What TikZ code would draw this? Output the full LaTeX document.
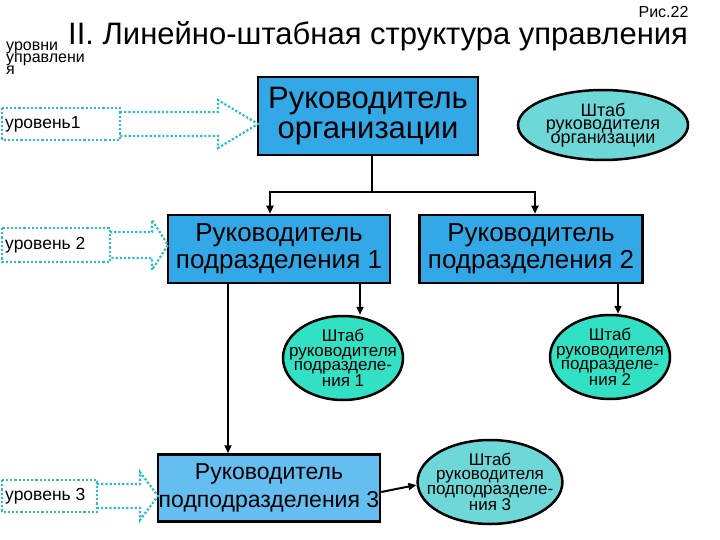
\documentclass[tikz,border=0pt]{standalone}
\usepackage{fontspec}
\setmainfont{Liberation Sans}
\usetikzlibrary{shapes.geometric,arrows.meta}
\definecolor{boxb}{RGB}{51,168,230}
\definecolor{boxc}{RGB}{100,190,240}
\definecolor{ellA}{RGB}{110,215,215}
\definecolor{ellB}{RGB}{50,225,195}
\definecolor{dotc}{RGB}{40,190,200}
\begin{document}
\begin{tikzpicture}[x=1pt,y=-1pt,
 box/.style={draw=black,line width=2.5pt,inner sep=0pt,align=center},
 ell/.style={ellipse,draw=black,line width=2.5pt,inner sep=-12pt,align=center,font=\fontsize{17}{14.5}\selectfont},
 con/.style={line width=2.5pt,-{Triangle[length=8pt,width=7pt]}},
 dot/.style={draw=dotc,line width=2.2pt,dotted},
 lbl/.style={font=\fontsize{17.5}{18}\selectfont,anchor=west,inner sep=1pt}]
\useasboundingbox (0,0) rectangle (720,540);
\node[anchor=east,font=\fontsize{16}{16}\selectfont] (fig) at (692,12) {Рис.22};
\node[anchor=west,font=\fontsize{31}{32}\selectfont,inner sep=0pt] (title) at (68,36) {II. Линейно-штабная структура управления};
\node[anchor=north west,align=left,font=\fontsize{16}{12}\selectfont,inner sep=0pt] (lv) at (6,42) {уровни\\управлени\\я};
% boxes
\node[box,fill=boxb,minimum width=220pt,minimum height=78pt,font=\fontsize{31}{30}\selectfont] (top) at (368,116) {Руководитель\\организации};
\node[ell,fill=ellA,minimum width=170pt,minimum height=70pt,font=\fontsize{18}{13.5}\selectfont] (e0) at (603,125) {Штаб\\руководителя\\организации};
\node[box,fill=boxb,minimum width=222pt,minimum height=68pt,font=\fontsize{26}{27}\selectfont] (b1) at (279,249) {Руководитель\\подразделения 1};
\node[box,fill=boxb,minimum width=223pt,minimum height=68pt,font=\fontsize{26}{27}\selectfont] (b2) at (531,249) {Руководитель\\подразделения 2};
\node[ell,fill=ellB,minimum width=120pt,minimum height=84pt] (e1) at (343,358) {Штаб\\руководителя\\подразделе-\\ния 1};
\node[ell,fill=ellB,minimum width=120pt,minimum height=84pt] (e2) at (610,357) {Штаб\\руководителя\\подразделе-\\ния 2};
\node[box,fill=boxc,minimum width=222pt,minimum height=67pt,font=\fontsize{23}{28}\selectfont] (b3) at (269,488) {Руководитель\\подподразделения 3};
\node[ell,fill=ellA,minimum width=124pt,minimum height=84pt] (e3) at (490,482) {Штаб\\руководителя\\подподразделе-\\ния 3};
% connectors
\coordinate (j) at (372,192);
\draw[line width=2pt] (top.south -| j) -- (j);
\draw[con] (j) -| (b1.north -| 270,0);
\draw[con] (j) -| (b2.north -| 535,0);
\draw[con] (b1.south -| 360,0) -- (e1.north -| 360,0);
\draw[con] (b2.south -| 618,0) -- (e2.north -| 618,0);
\draw[con] (b1.south -| 228,0) -- (b3.north -| 228,0);
\draw[line width=2pt,-{Triangle[length=8pt,width=7pt]}] (b3.east |- 0,492) -- (e3.west |- 0,485);
% level arrows
\node[lbl] (l1) at (4,124) {уровень1};
\draw[dot] (2,108) rectangle (120,140);
\draw[dot] (120,112) -- (218,112) -- (218,100) -- (258,124) -- (218,148) -- (218,136) -- (120,136);
\node[lbl] (l2) at (4,245) {уровень 2};
\draw[dot] (2,228) rectangle (110,262);
\draw[dot] (110,232) -- (152,232) -- (152,220) -- (168,245) -- (152,270) -- (152,258) -- (110,258);
\node[lbl] (l3) at (4,496) {уровень 3};
\draw[dot] (2,480) rectangle (97,512);
\draw[dot] (97,484) -- (140,484) -- (140,472) -- (158,496) -- (140,520) -- (140,508) -- (97,508);
\end{tikzpicture}
\end{document}
